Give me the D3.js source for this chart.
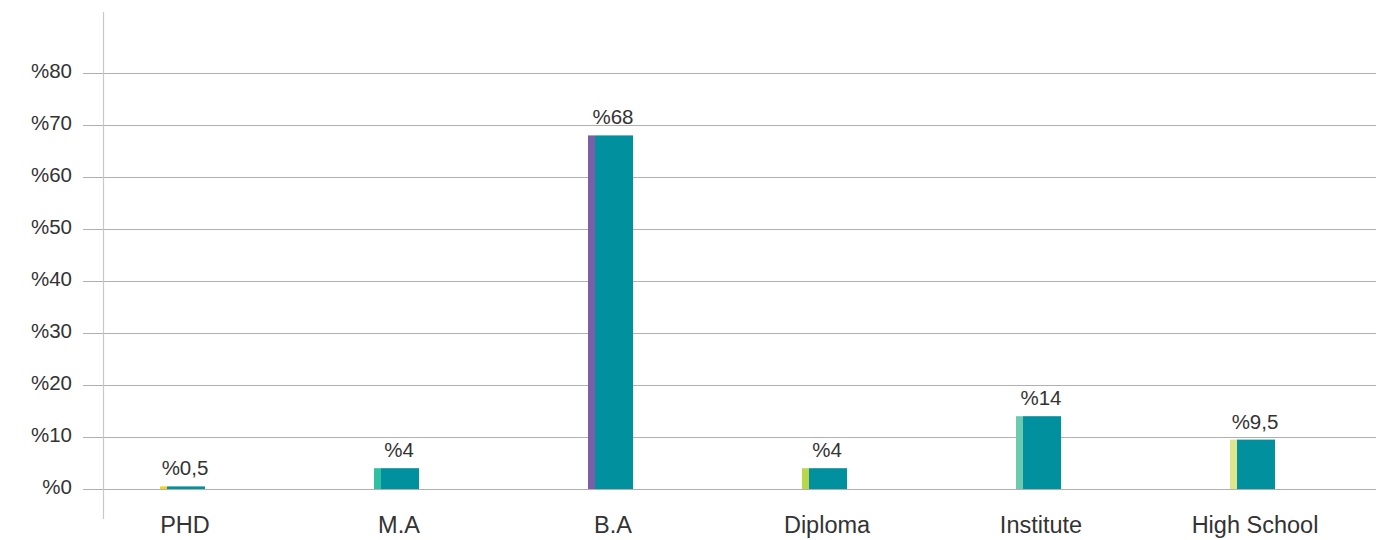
<!DOCTYPE html>
<html>
<head>
<meta charset="utf-8">
<script src="https://cdn.jsdelivr.net/npm/d3@7"></script>
<style>
  html, body { margin: 0; padding: 0; background: #fff; }
  text { font-family: "Liberation Sans", Arial, Helvetica, sans-serif; fill: #333; }
</style>
</head>
<body>
<svg id="chart" width="1397" height="540"></svg>
<script>
// Education level shares (percent)
const categories = ["PHD", "M.A", "B.A", "Diploma", "Institute", "High School"];
const values = [0.5, 4, 68, 4, 14, 9.5];
const valueLabels = ["%0,5", "%4", "%68", "%4", "%14", "%9,5"];
const accentColors = ["#f3d218", "#2fbfa3", "#7a5ea8", "#bcd64a", "#6ccab1", "#dde68c"];
const yTicks = [0, 10, 20, 30, 40, 50, 60, 70, 80];

const svg = d3.select("#chart");

const x = d3.scaleBand().domain(categories).range([78, 1362]).padding(0);
const y = d3.scaleLinear().domain([0, 80]).range([489, 73]);

// Horizontal gridlines with "%" tick labels
const gridLeft = 83, gridRight = 1376;
const yAxis = d3.axisLeft(y)
  .tickValues(yTicks)
  .tickFormat(d => "%" + d)
  .tickSize(-(gridRight - gridLeft))
  .tickPadding(11);

const gy = svg.append("g")
  .attr("transform", `translate(${gridLeft},0)`)
  .call(yAxis);
gy.select(".domain").remove();
gy.selectAll(".tick line").attr("stroke", "#b0b0b0").attr("stroke-width", 1);
gy.selectAll(".tick text")
  .attr("font-size", 20.5)
  .attr("fill", "#333")
  .attr("x", -11)
  .attr("dy", "0.2em");

// Vertical axis line
svg.append("line")
  .attr("x1", 103.5).attr("x2", 103.5)
  .attr("y1", 12).attr("y2", 519)
  .attr("stroke", "#c8c8c8").attr("stroke-width", 1.2);

// Bars: narrow accent strip followed by main teal bar
const groups = svg.append("g").selectAll("g")
  .data(categories)
  .join("g")
  .attr("transform", d => `translate(${x(d) + x.bandwidth() / 2},0)`);

groups.append("rect")
  .attr("x", -25)
  .attr("width", 7)
  .attr("y", (d, i) => y(values[i]))
  .attr("height", (d, i) => y(0) - y(values[i]))
  .attr("fill", (d, i) => accentColors[i]);

groups.append("rect")
  .attr("x", -18)
  .attr("width", 38)
  .attr("y", (d, i) => y(values[i]))
  .attr("height", (d, i) => y(0) - y(values[i]))
  .attr("fill", "#00909e");

groups.append("text")
  .attr("x", 0)
  .attr("y", (d, i) => y(values[i]) - 11)
  .attr("text-anchor", "middle")
  .attr("font-size", 20.5)
  .text((d, i) => valueLabels[i]);

// Category labels
const xAxis = d3.axisBottom(x).tickSize(0).tickPadding(0);
const gx = svg.append("g")
  .attr("transform", "translate(0,533)")
  .call(xAxis);
gx.select(".domain").remove();
gx.selectAll(".tick text")
  .attr("font-size", 23.5)
  .attr("fill", "#222")
  .attr("dy", 0)
  .attr("y", 0);
</script>
</body>
</html>
